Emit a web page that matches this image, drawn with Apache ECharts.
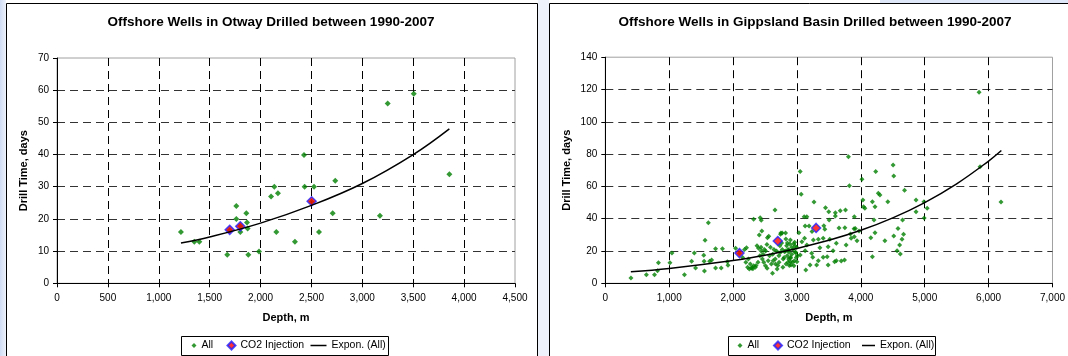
<!DOCTYPE html>
<html>
<head>
<meta charset="utf-8">
<script src="https://cdn.jsdelivr.net/npm/echarts@6/dist/echarts.min.js"></script>
<style>
html,body{margin:0;padding:0;background:#ffffff;}
#c{width:1068px;height:356px;}
</style>
</head>
<body>
<div id="c"></div>
<script>
// ---------- data ----------
const titles = ['Offshore Wells in Otway Drilled between 1990-2007',
                'Offshore Wells in Gippsland Basin Drilled between 1990-2007'];
const seriesNames = ['All', 'CO2 Injection', 'Expon. (All)'];
const xAxisName = 'Depth, m';
const yAxisName = 'Drill Time, days';

// Otway
const otwayAll = [
 [1218,15.9],[1349,12.9],[1398,12.9],[1673,8.9],[1762,24],[1762,20],[1801,15.9],
 [1860,21.8],[1867,18.9],[1873,17],[1880,8.9],[1985,9.9],[2103,27],[2135,30],
 [2171,28],[2155,15.9],[2338,12.9],[2427,39.9],[2433,30],[2525,30],[2574,15.9],
 [2709,21.8],[2734,31.9],[3173,21],[3249,55.9],[3505,58.9],[3855,33.9],
 [1697,16.5],[1801,17.8],[2502,25.3]
];
const otwayCO2 = [[1697,16.6],[1801,17.7],[2502,25.5]];
const otwayTrend = [[1218,12.5],[1500,14.4],[2000,18.7],[2500,24.2],[3000,31],[3500,40],[3855,48]];

// Gippsland
const gippsAll = [
 [401,3.3],[643,5.3],[770,5.3],[817,7.8],[832,12.8],[1012,12.8],[1043,18.8],[1239,5.3],
 [1351,13.6],[1393,18.8],[1413,9.5],[1541,17.3],[1547,13.6],[1552,7.6],[1562,26.6],
 [1613,37.5],[1633,13.6],[1664,14.4],[1726,21.4],[1726,9.5],[1814,9.5],[1834,21.4],
 [1911,13.4],[1921,11.1],[2040,21.7],[2100,18.6],
 [2150,16],[2180,21],[2200,13],[2210,22],[2228,9.9],[2240,15],[2254,8.9],[2270,12],
 [2286,9.3],[2300,10],[2310,9],[2323,10.9],[2322,39.6],[2349,9.9],[2360,11],[2375,23.3],
 [2390,13],[2399,21.7],[2410,29.9],[2420,17],[2425,40.6],[2438,22.3],[2441,39],[2440,20],
 [2450,32.4],[2459,15.1],[2470,18],[2480,13],[2490,21],[2507,10.9],[2510,20],[2530,24],
 [2533,9.3],[2538,28.2],[2550,14],[2559,29.1],[2570,17],[2585,22.3],[2600,12],[2617,6.2],
 [2620,18],[2628,14],[2640,21],[2656,45.4],[2660,15],[2664,12],[2680,20],[2690,8.9],
 [2700,11],[2717,17.1],[2720,13],[2733,23.3],[2740,19],[2743,30.3],[2748,31.2],[2760,25],
 [2769,31.2],[2770,21],[2780,10],[2785,15],[2800,16],[2806,19.6],[2820,20],[2822,31.2],
 [2827,27.5],[2830,12],[2838,23.3],[2848,17.1],[2850,25],[2859,13],[2860,21],[2870,15],
 [2872,20.6],[2875,19.2],[2880,11],[2890,24.4],[2897,26.8],[2897,15.5],[2897,13.4],
 [2901,16.1],[2907,11.3],[2917,22.3],[2920,18],[2932,13],[2940,21],[2949,24.3],[2953,10.9],
 [2960,14],[2964,25.4],[2970,23],[2974,19],[2980,19.2],[2990,16],[2995,22.3],[3000,13.4],
 [3006,17.1],[3031,31.3],[3051,69.3],[3051,17.5],[3066,55.1],[3077,25.8],[3113,41.2],
 [3119,27.9],[3128,35.5],[3128,20.2],[3139,8.2],[3154,41.2],[3154,23.7],[3190,35.5],
 [3205,11.3],[3231,18.6],[3236,32],[3247,16.1],[3257,26.8],[3267,50.3],[3308,11.3],
 [3334,27.2],[3334,14],[3359,22],[3411,27.9],[3411,16.1],[3421,35.7],[3436,33.4],
 [3447,46.8],[3473,16.5],[3488,22.7],[3488,11.3],[3498,44.3],[3504,39.2],[3513,27.2],
 [3565,20.2],[3590,13.4],[3601,43.7],[3601,41.7],[3616,24.8],[3616,14],[3658,34.2],
 [3678,45],[3693,13.8],[3744,14.4],[3750,34.4],[3760,45.4],[3770,23.7],[3806,78.4],
 [3821,60.4],[3837,30.5],[3848,27.9],[3894,33.8],[3898,41.2],[3898,28.9],[3914,34],
 [3940,26.4],[3971,32.4],[4017,64.4],[4032,51.6],[4043,47.4],[4063,46.4],[4156,28.2],
 [4181,50.5],[4181,16.5],[4206,39.2],[4222,47.4],[4222,31.3],[4233,69.3],[4274,55.7],
 [4299,54.7],[4376,26.4],[4422,50.5],[4505,73.2],[4515,66.4],[4515,29.3],[4567,20.2],
 [4582,34],[4607,23.7],[4618,18.1],[4644,27.2],[4653,39.2],[4669,30.3],[4684,57.6],
 [4864,51.6],[4864,44.3],[4988,50.5],[4992,40.4],[5039,46.4],[5851,118.3],[5866,72.2],
 [6194,50.3]
];
const gippsCO2 = [[2100,18.7],[2700,26.2],[3300,34.3]];
const gippsTrend = [[400,7.2],[1000,9.2],[2000,14.1],[2500,17.4],[3000,21.6],[3500,26.6],
 [4000,32.8],[4500,40.5],[5000,50],[5500,61.6],[6000,75.7],[6200,82.2]];

// ---------- chart ----------
const FONT = '"Liberation Sans", Arial, sans-serif';
const chart = echarts.init(document.getElementById('c'), null, {renderer:'canvas'});
const fmt = v => v.toLocaleString('en-US');

function xAxisCfg(gi, max, interval){
  return {
    type:'value', gridIndex:gi, min:0, max:max, interval:interval,
    name:xAxisName, nameLocation:'middle', nameGap:29,
    nameTextStyle:{fontFamily:FONT, fontSize:11, fontWeight:'bold', color:'#000'},
    axisLine:{show:true, onZero:false, lineStyle:{color:'#000', width:1}},
    axisTick:{show:true, length:4, lineStyle:{color:'#000'}},
    axisLabel:{fontFamily:FONT, fontSize:10, color:'#000', margin:10, formatter:fmt},
    splitLine:{show:true, showMinLine:false, showMaxLine:false,
      lineStyle:{color:'#000', type:[8,5], width:1}}
  };
}
function yAxisCfg(gi, max, interval, gap){
  return {
    type:'value', gridIndex:gi, min:0, max:max, interval:interval,
    name:yAxisName, nameLocation:'middle', nameGap:gap, nameRotate:90,
    nameTextStyle:{fontFamily:FONT, fontSize:11, fontWeight:'bold', color:'#000'},
    axisLine:{show:true, onZero:false, lineStyle:{color:'#000', width:1}},
    axisTick:{show:true, length:4, lineStyle:{color:'#000'}},
    axisLabel:{fontFamily:FONT, fontSize:10, color:'#000', margin:8, formatter:fmt},
    splitLine:{show:true, showMinLine:false, showMaxLine:false,
      lineStyle:{color:'#333', type:[8,5], width:1}}
  };
}
function legendCfg(item, left, w, h){
  return {
    data:[item], left:left, top:340, padding:0, itemWidth:w, itemHeight:h,
    itemGap:0, selectedMode:false,
    textStyle:{fontFamily:FONT, fontSize:10.5, color:'#000'}
  };
}

const option = {
  animation:false,
  backgroundColor:'#ffffff',
  title:[
    {text:titles[0], left:271, top:15, textAlign:'center', padding:0,
     textStyle:{fontFamily:FONT, fontSize:13.5, fontWeight:'bold', color:'#000'}},
    {text:titles[1], left:815, top:15, textAlign:'center', padding:0,
     textStyle:{fontFamily:FONT, fontSize:13.5, fontWeight:'bold', color:'#000'}}
  ],
  grid:[
    {left:57, top:58, width:458, height:225.3, show:true, borderColor:'#a0a0a0', borderWidth:1, backgroundColor:'#fff'},
    {left:605.3, top:57.2, width:454.3, height:226.1, show:true, borderColor:'#a0a0a0', borderWidth:1, backgroundColor:'#fff'}
  ],
  xAxis:[xAxisCfg(0,4500,500), xAxisCfg(1,7000,1000)],
  yAxis:[yAxisCfg(0,70,10,28), yAxisCfg(1,140,20,33)],
  legend:[
    legendCfg(seriesNames[0], 191.5, 5, 5),
    legendCfg(seriesNames[1], 226.5, 8, 8),
    legendCfg({name:seriesNames[2], icon:'rect'}, 310.5, 16, 1.5),
    legendCfg(seriesNames[0], 737.5, 5, 5),
    legendCfg(seriesNames[1], 773, 8, 8),
    legendCfg({name:seriesNames[2], icon:'rect'}, 862, 13, 1.5)
  ],
  graphic:[
    {type:'rect', shape:{x:0,y:0,width:6,height:356}, style:{fill:new echarts.graphic.LinearGradient(0,0,1,0,[{offset:0,color:'#cfdcf4'},{offset:1,color:'#eef3fb'}])}, silent:true, z:-10},
    {type:'rect', shape:{x:538,y:0,width:11,height:356}, style:{fill:'#eef3fb'}, silent:true, z:-10},
    {type:'rect', shape:{x:880,y:0,width:188,height:3}, style:{fill:'#dde7f7'}, silent:true, z:-10},
    {type:'rect', shape:{x:6.5,y:3.5,width:531,height:360}, style:{fill:'none', stroke:'#000', lineWidth:1}, silent:true, z:-5},
    {type:'rect', shape:{x:549.5,y:3.5,width:530,height:360}, style:{fill:'none', stroke:'#000', lineWidth:1}, silent:true, z:-5},
    {type:'rect', shape:{x:181.5,y:336.5,width:207,height:19}, style:{fill:'none', stroke:'#000', lineWidth:1}, silent:true, z:-5},
    {type:'rect', shape:{x:728.5,y:336.5,width:207,height:19}, style:{fill:'none', stroke:'#000', lineWidth:1}, silent:true, z:-5}
  ],
  series:[
    {name:seriesNames[0], type:'scatter', xAxisIndex:0, yAxisIndex:0, data:otwayAll,
     symbol:'diamond', symbolSize:6, itemStyle:{color:'#008000'}, z:3},
    {name:seriesNames[1], type:'scatter', xAxisIndex:0, yAxisIndex:0, data:otwayCO2,
     symbol:'diamond', symbolSize:9, itemStyle:{color:'#ff0000', borderColor:'#2020ff', borderWidth:1.5}, z:4},
    {name:seriesNames[2], type:'line', xAxisIndex:0, yAxisIndex:0, data:otwayTrend,
     smooth:0.4, symbol:'none', lineStyle:{color:'#000', width:1.5}, itemStyle:{color:'#000'}, z:5},
    {name:seriesNames[0], type:'scatter', xAxisIndex:1, yAxisIndex:1, data:gippsAll,
     symbol:'diamond', symbolSize:5, itemStyle:{color:'#008000'}, z:3},
    {name:seriesNames[1], type:'scatter', xAxisIndex:1, yAxisIndex:1, data:gippsCO2,
     symbol:'diamond', symbolSize:9, itemStyle:{color:'#ff0000', borderColor:'#2020ff', borderWidth:1.5}, z:4},
    {name:seriesNames[2], type:'line', xAxisIndex:1, yAxisIndex:1, data:gippsTrend,
     smooth:0.4, symbol:'none', lineStyle:{color:'#000', width:1.5}, itemStyle:{color:'#000'}, z:5}
  ]
};
chart.setOption(option);
</script>
</body>
</html>
